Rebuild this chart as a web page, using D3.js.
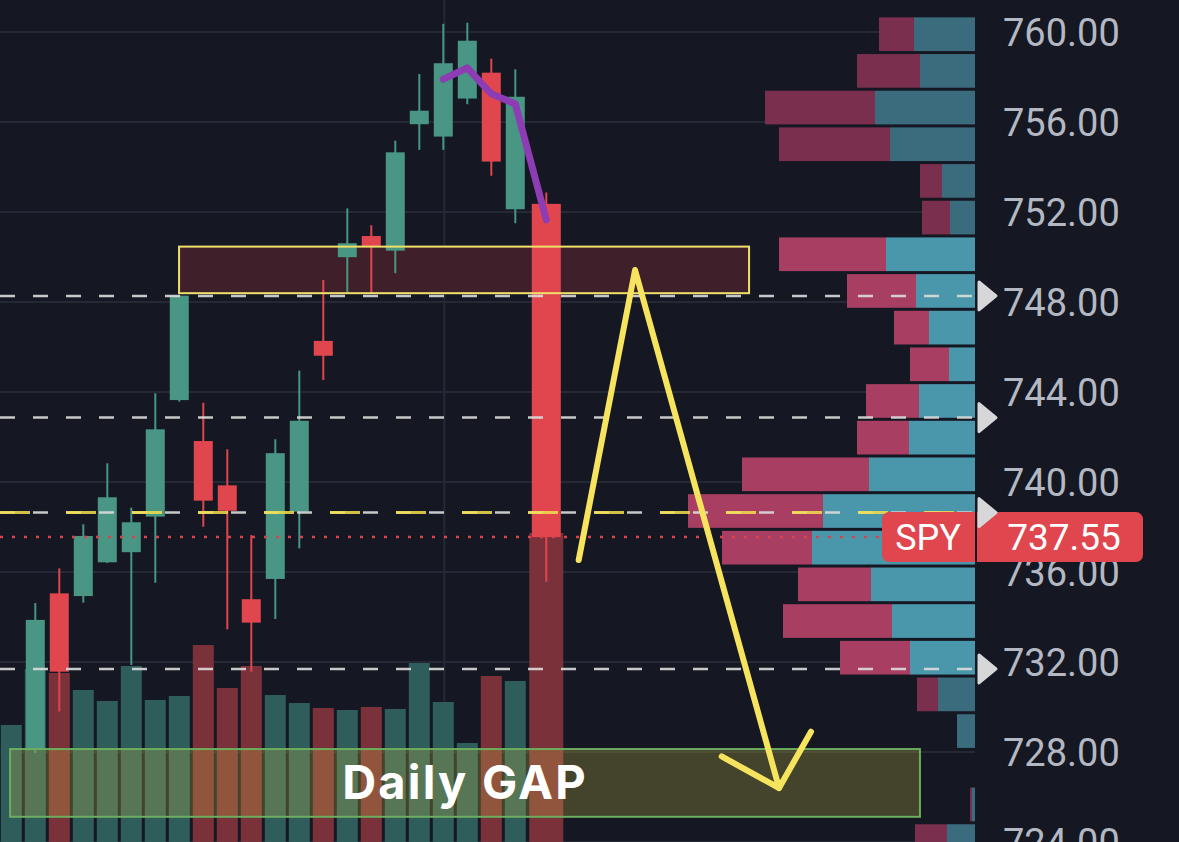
<!DOCTYPE html>
<html>
<head>
<meta charset="utf-8">
<script src="https://cdn.jsdelivr.net/npm/d3@7"></script>
<style>
  html, body { margin: 0; padding: 0; background: #151823; }
  svg { display: block; }
</style>
</head>
<body>
<svg id="chart" width="1179" height="842"></svg>
<script>
// Candles (index 0 only has volume, its candle is off view)
const opens  = [null, 728.1, 735.05, 734.93, 736.43, 736.88, 738.46, 743.64, 741.82, 739.85, 734.79, 735.69, 738.68, 746.27, 749.99, 750.93, 750.28, 755.9, 755.35, 757.04, 758.19, 752.12, 752.36];
const highs  = [null, 734.62, 736.16, 738.12, 740.83, 738.86, 743.94, 748.3, 743.52, 741.45, 737.64, 741.9, 744.95, 748.98, 752.16, 751.41, 755.17, 758.13, 760.36, 760.41, 758.81, 758.34, 752.86];
const lows   = [null, 727.96, 729.8, 734.64, 736.4, 731.87, 735.52, 743.57, 738.01, 733.45, 731.57, 733.91, 737.05, 744.53, 748.39, 748.39, 749.28, 754.76, 754.76, 756.79, 753.61, 751.5, 735.57];
const closes = [null, 733.87, 731.57, 737.6, 739.32, 738.21, 742.34, 748.28, 739.17, 738.72, 733.75, 741.28, 742.72, 745.61, 750.61, 750.46, 754.65, 756.5, 758.61, 759.61, 754.24, 757.12, 737.55];
const volumes = [1.17, 1.73, 1.69, 1.52, 1.41, 1.76, 1.42, 1.46, 1.97, 1.54, 1.76, 1.47, 1.39, 1.34, 1.32, 1.35, 1.33, 1.79, 1.40, 0.99, 1.66, 1.61, 3.09];

// Short average drawn in purple over the last candles
const avgIndex = [18, 19, 20, 21, 22];
const avgValues = [757.9, 758.4, 757.25, 756.8, 751.65];

// Volume profile (sell / buy per price bin)
const profilePrices = [759.9, 758.27, 756.64, 755.01, 753.38, 751.75, 750.12, 748.49, 746.86, 745.23, 743.6, 741.97, 740.34, 738.71, 737.08, 735.45, 733.82, 732.19, 730.56, 728.93, 727.3, 725.67, 724.04];
const profileSell = [35, 63, 110, 111, 22, 28, 107, 69, 35, 39, 53, 52, 127, 135, 90, 73, 109, 70, 21, 0, 0, 2, 32];
const profileBuy  = [61, 55, 100, 85, 33, 25, 89, 59, 46, 26, 56, 66, 106, 152, 163, 104, 83, 65, 37, 18, 0, 3, 28];
const binSize = 1.63;
const valueArea = [731.3, 751.0];

// Levels
const priceTicks = [760, 756, 752, 748, 744, 740, 736, 732, 728, 724];
const levels = [748.27, 742.86, 738.64, 731.69];
const pocLevel = 738.64;
const lastPrice = 737.55;
const ticker = 'SPY';

// Annotations (index, price)
const zoneBox = { i0: 6.99, i1: 30.74, p0: 748.39, p1: 750.46 };
const gapBox = { i0: -0.05, i1: 37.86, p0: 725.12, p1: 728.13, label: 'Daily GAP' };
const arrowPath = [[23.64, 736.53], [25.99, 749.42], [31.99, 726.4]];
const arrowHead = [[29.6, 727.8], [31.99, 726.4], [33.32, 728.9]];

const W = 1179, H = 842;
const plotRight = 975;
const svg = d3.select('#chart');

const x = d3.scaleLinear().domain([0, 40]).range([11.3, 971.3]);
const y = d3.scaleLinear().domain([724, 761.42]).range([H, 0]);
const vy = d3.scaleLinear().domain([0, 4.2]).range([H, 422]);
const pw = d3.scaleLinear().domain([0, 300]).range([0, 300]);

const green = '#489683', red = '#e1464e';
const lastIdx = closes.length - 1;
// the live (last) bar is drawn wider and shifted right
const cx = i => x(i) + (i === lastIdx ? 7 : 0);
const bodyW = i => i === lastIdx ? 29 : 19;
const volW = i => i === lastIdx ? 34 : 21;

svg.append('rect').attr('width', W).attr('height', H).attr('fill', '#151823');

// Grid
svg.append('g').selectAll('line').data(priceTicks).enter().append('line')
  .attr('x1', 0).attr('x2', plotRight)
  .attr('y1', d => y(d)).attr('y2', d => y(d))
  .attr('stroke', '#252935').attr('stroke-width', 2);
svg.append('line')
  .attr('x1', x(18) + 1).attr('x2', x(18) + 1).attr('y1', 0).attr('y2', H)
  .attr('stroke', '#252935').attr('stroke-width', 2);

// Resistance zone fill
svg.append('rect')
  .attr('x', x(zoneBox.i0)).attr('y', y(zoneBox.p1))
  .attr('width', x(zoneBox.i1) - x(zoneBox.i0)).attr('height', y(zoneBox.p0) - y(zoneBox.p1))
  .attr('fill', '#3f1f29');

// Volume bars
const up = i => closes[i] === null || closes[i] >= opens[i];
svg.append('g').selectAll('rect').data(volumes).enter().append('rect')
  .attr('x', (d, i) => cx(i) - volW(i) / 2)
  .attr('width', (d, i) => volW(i))
  .attr('y', d => vy(d))
  .attr('height', d => H - vy(d))
  .attr('fill', (d, i) => up(i) ? '#2e5d5c' : '#7a313a');

// Candles
const idx = d3.range(closes.length).filter(i => closes[i] !== null);
const candles = svg.append('g');
candles.selectAll('line').data(idx).enter().append('line')
  .attr('x1', i => cx(i)).attr('x2', i => cx(i))
  .attr('y1', i => y(highs[i])).attr('y2', i => y(lows[i]))
  .attr('stroke', i => up(i) ? green : red).attr('stroke-width', 2);
candles.selectAll('rect').data(idx).enter().append('rect')
  .attr('x', i => cx(i) - bodyW(i) / 2).attr('width', i => bodyW(i))
  .attr('y', i => y(Math.max(opens[i], closes[i])))
  .attr('height', i => Math.max(2, Math.abs(y(opens[i]) - y(closes[i]))))
  .attr('fill', i => up(i) ? green : red);

// Volume profile
const inVA = p => p >= valueArea[0] && p <= valueArea[1];
const prof = svg.append('g');
profilePrices.forEach((p, k) => {
  const top = y(p + binSize / 2) + 1.5;
  const h = y(p - binSize / 2) - y(p + binSize / 2) - 3;
  const bw = pw(profileBuy[k]), sw = pw(profileSell[k]);
  prof.append('rect').attr('x', plotRight - bw).attr('width', bw)
    .attr('y', top).attr('height', h)
    .attr('fill', inVA(p) ? '#4a97ab' : '#3b6c7e');
  prof.append('rect').attr('x', plotRight - bw - sw).attr('width', sw)
    .attr('y', top).attr('height', h)
    .attr('fill', inVA(p) ? '#a83f63' : '#7a2f4e');
});

// Daily gap box
svg.append('rect')
  .attr('x', x(gapBox.i0)).attr('y', y(gapBox.p1))
  .attr('width', x(gapBox.i1) - x(gapBox.i0)).attr('height', y(gapBox.p0) - y(gapBox.p1))
  .attr('fill', 'rgba(213,196,69,0.25)')
  .attr('stroke', '#6cae5e').attr('stroke-width', 2);

// Resistance zone border
svg.append('rect')
  .attr('x', x(zoneBox.i0)).attr('y', y(zoneBox.p1))
  .attr('width', x(zoneBox.i1) - x(zoneBox.i0)).attr('height', y(zoneBox.p0) - y(zoneBox.p1))
  .attr('fill', 'none').attr('stroke', '#efe06a').attr('stroke-width', 2);

// Level lines
svg.append('g').selectAll('line').data(levels).enter().append('line')
  .attr('x1', 0).attr('x2', plotRight)
  .attr('y1', d => y(d)).attr('y2', d => y(d))
  .attr('stroke', '#dcdcdc').attr('stroke-opacity', 0.9)
  .attr('stroke-width', 2.5).attr('stroke-dasharray', '15,18');
svg.append('line')
  .attr('x1', 0).attr('x2', plotRight).attr('y1', y(pocLevel)).attr('y2', y(pocLevel))
  .attr('stroke', '#f2df4e').attr('stroke-opacity', 0.85)
  .attr('stroke-width', 3).attr('stroke-dasharray', '30,36');
svg.append('line')
  .attr('x1', 0).attr('x2', 882).attr('y1', y(lastPrice)).attr('y2', y(lastPrice))
  .attr('stroke', '#d9434b').attr('stroke-width', 2.5).attr('stroke-dasharray', '3,9');

// Purple average
svg.append('path')
  .datum(avgIndex.map((d, k) => [d, avgValues[k]]))
  .attr('d', d3.line().x(d => cx(d[0])).y(d => y(d[1])))
  .attr('fill', 'none').attr('stroke', '#8d3cb4').attr('stroke-width', 7)
  .attr('stroke-linecap', 'round').attr('stroke-linejoin', 'round');

// Yellow arrow
const lineXY = d3.line().x(d => x(d[0])).y(d => y(d[1]));
[arrowPath, arrowHead].forEach(pts => {
  svg.append('path').attr('d', lineXY(pts))
    .attr('fill', 'none').attr('stroke', '#f7e45e').attr('stroke-width', 6)
    .attr('stroke-linecap', 'round').attr('stroke-linejoin', 'round');
});

// Gap label
svg.append('text')
  .attr('x', (x(gapBox.i0) + x(gapBox.i1)) / 2)
  .attr('y', y(gapBox.p0) - 18)
  .attr('text-anchor', 'middle')
  .style('font-family', 'Inter, Roboto, sans-serif').style('font-weight', 700)
  .style('font-size', '47px').style('letter-spacing', '2.2px').attr('fill', '#ffffff')
  .text(gapBox.label);

// Price axis
const axis = svg.append('g').attr('transform', 'translate(1003,0)')
  .call(d3.axisRight(y).tickValues(priceTicks).tickFormat(d3.format('.2f')).tickSize(0).tickPadding(0));
axis.select('.domain').remove();
axis.selectAll('text')
  .attr('dy', '0.36em')
  .style('font-family', 'Roboto, sans-serif').style('font-size', '38px')
  .attr('fill', '#b4b8c2');

// Last price label
const ly = y(lastPrice);
svg.append('rect').attr('x', 882).attr('y', ly - 25).attr('width', 261).attr('height', 50)
  .attr('rx', 7).attr('fill', '#e0464e');
svg.append('rect').attr('x', 975).attr('y', ly - 25).attr('width', 2).attr('height', 50)
  .attr('fill', '#151823');
svg.append('text').attr('x', 928).attr('y', ly + 13).attr('text-anchor', 'middle')
  .style('font-family', 'Roboto, sans-serif').style('font-size', '36px').attr('fill', '#fff')
  .text(ticker);
svg.append('text').attr('x', 1064).attr('y', ly + 13).attr('text-anchor', 'middle')
  .style('font-family', 'Roboto, sans-serif').style('font-size', '37px').attr('fill', '#fff')
  .text(d3.format('.2f')(lastPrice));

// Level markers
svg.append('g').selectAll('path').data(levels).enter().append('path')
  .attr('d', d => `M979,${y(d) - 14} L996,${y(d)} L979,${y(d) + 14} Z`)
  .attr('fill', '#d7d7da').attr('stroke', '#d7d7da').attr('stroke-width', 3)
  .attr('stroke-linejoin', 'round');
</script>
</body>
</html>
